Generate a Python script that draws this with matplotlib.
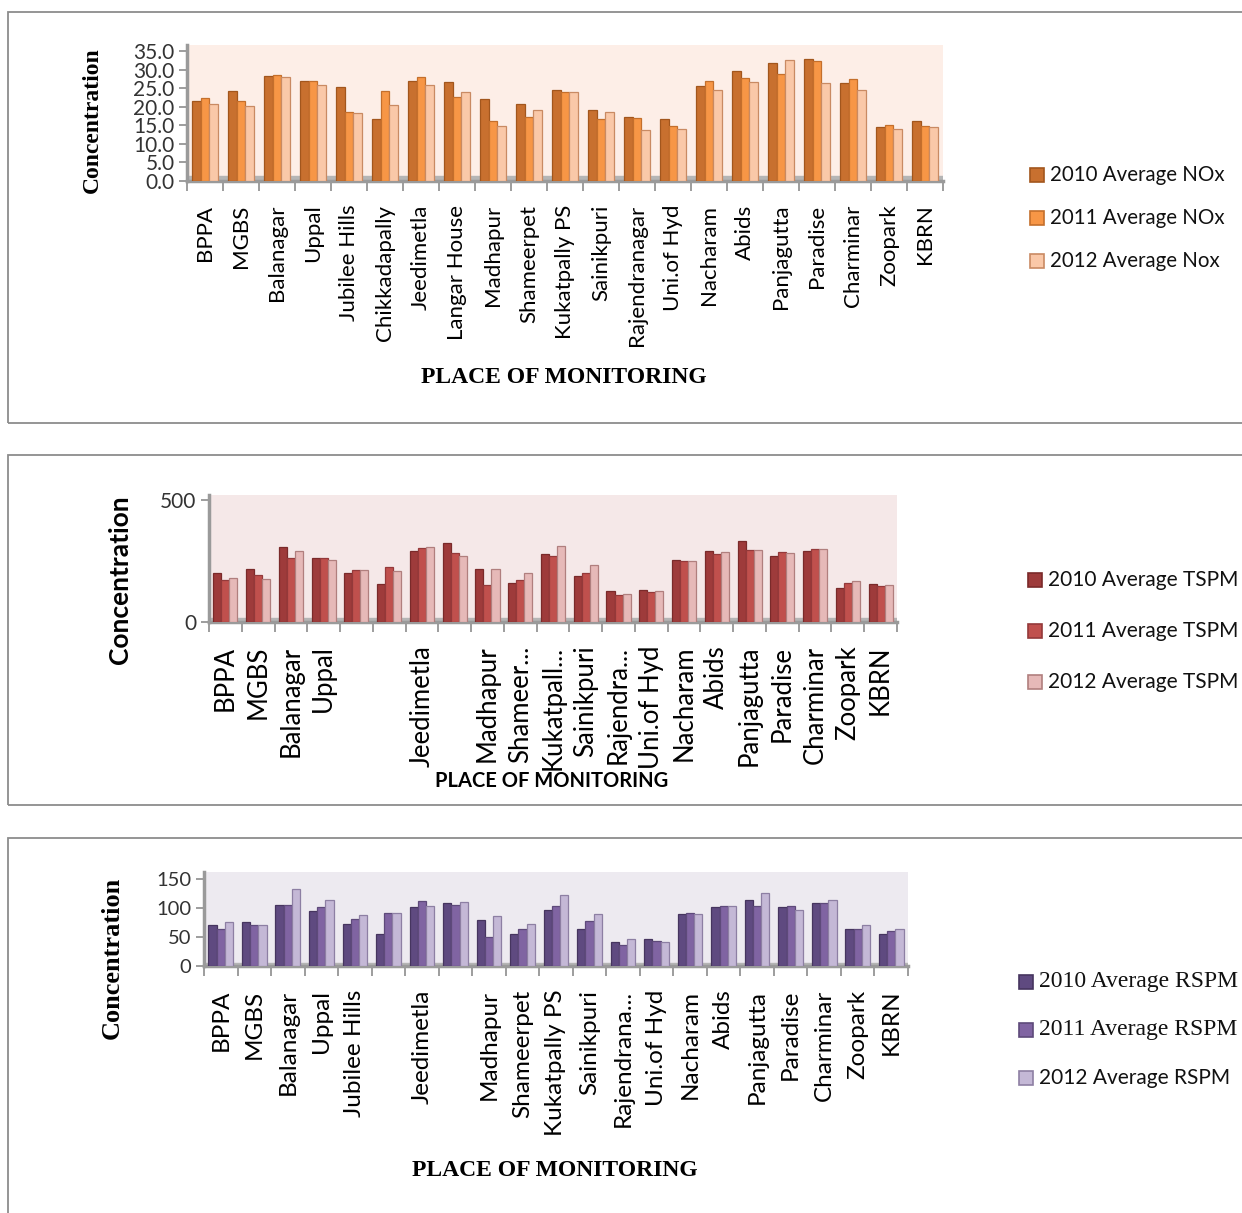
"""Concentrations moyennes NOx / TSPM / RSPM par station (2010-2012)."""

import matplotlib

matplotlib.use("Agg")
import matplotlib.pyplot as plt
import numpy as np
from matplotlib.patches import Rectangle

W, H = 1242, 1213

places = [
    "BPPA", "MGBS", "Balanagar", "Uppal", "Jubilee Hills", "Chikkadapally",
    "Jeedimetla", "Langar House", "Madhapur", "Shameerpet", "Kukatpally PS",
    "Sainikpuri", "Rajendranagar", "Uni.of Hyd", "Nacharam", "Abids",
    "Panjagutta", "Paradise", "Charminar", "Zoopark", "KBRN",
]
tspm_labels = [
    "BPPA", "MGBS", "Balanagar", "Uppal", "", "", "Jeedimetla", "",
    "Madhapur", "Shameer...", "Kukatpall...", "Sainikpuri", "Rajendra...",
    "Uni.of Hyd", "Nacharam", "Abids", "Panjagutta", "Paradise", "Charminar",
    "Zoopark", "KBRN",
]
rspm_labels = [
    "BPPA", "MGBS", "Balanagar", "Uppal", "Jubilee Hills", "", "Jeedimetla", "",
    "Madhapur", "Shameerpet", "Kukatpally PS", "Sainikpuri", "Rajendrana...",
    "Uni.of Hyd", "Nacharam", "Abids", "Panjagutta", "Paradise", "Charminar",
    "Zoopark", "KBRN",
]

nox_2010 = [21.6, 24.1, 28.2, 26.8, 25.2, 16.8, 27.0, 26.6, 22.2, 20.8, 24.6,
            19.0, 17.1, 16.8, 25.7, 29.5, 31.8, 32.7, 26.5, 14.5, 16.2]
nox_2011 = [22.3, 21.6, 28.5, 26.8, 18.5, 24.1, 28.0, 22.5, 16.2, 17.1, 24.0,
            16.8, 16.9, 14.7, 26.8, 27.6, 28.8, 32.4, 27.5, 15.1, 14.7]
nox_2012 = [20.7, 20.1, 28.1, 25.9, 18.3, 20.5, 25.9, 24.0, 14.7, 19.0, 24.0,
            18.7, 13.8, 14.1, 24.6, 26.7, 32.5, 26.4, 24.6, 14.1, 14.4]

tspm_2010 = [201, 219, 306, 261, 201, 156, 292, 322, 219, 160, 278,
             188, 125, 129, 253, 292, 331, 271, 290, 139, 157]
tspm_2011 = [174, 192, 264, 264, 212, 225, 303, 283, 153, 174, 271,
             201, 111, 121, 250, 278, 294, 285, 299, 160, 146]
tspm_2012 = [181, 176, 292, 253, 211, 208, 306, 269, 218, 201, 310,
             233, 115, 128, 250, 286, 294, 283, 297, 169, 153]

rspm_2010 = [70, 76, 105, 94, 73, 56, 102, 109, 79, 56, 96,
             63, 42, 46, 90, 102, 114, 102, 109, 63, 55]
rspm_2011 = [64, 71, 105, 101, 81, 92, 112, 105, 50, 63, 104,
             77, 37, 43, 92, 103, 103, 104, 109, 63, 60]
rspm_2012 = [75, 70, 133, 114, 88, 92, 103, 110, 87, 73, 122,
             90, 46, 42, 90, 103, 126, 97, 114, 71, 63]

SANS = "Lato"
SERIF = "Liberation Serif"


def px_rect(x0, y0, x1, y1):
    return [x0 / W, 1 - y1 / H, (x1 - x0) / W, (y1 - y0) / H]


def draw_panel(fig, rect, series, colors, edges, bg, labels, ylim, yticks,
               ytick_fmt, ytick_size, xtick_size):
    ax = fig.add_axes(rect)
    ax.set_facecolor(bg)
    x = np.arange(len(places))
    w = 0.245
    for i, (vals, c, e) in enumerate(zip(series, colors, edges)):
        ax.bar(x + (i - 1) * w, vals, width=w, color=c, edgecolor=e,
               linewidth=0.9, zorder=3)
    ax.set_xlim(-0.5, len(places) - 0.5)
    ax.set_ylim(*ylim)
    # sol gris façon 3D
    ax.axhspan(ylim[0], ylim[0] + (ylim[1] - ylim[0]) * 0.035,
               color="#b5b5b5", zorder=2)
    ax.set_yticks(yticks)
    ax.set_yticklabels([ytick_fmt.format(v) for v in yticks],
                       family=SANS, fontsize=ytick_size)
    ax.set_xticks(np.arange(len(places) + 1) - 0.5, minor=True)
    ax.set_xticks(x)
    ax.set_xticklabels(labels, rotation=90, family=SANS, fontsize=xtick_size,
                       va="top")
    ax.tick_params(axis="x", which="major", length=0, pad=17)
    ax.tick_params(axis="x", which="minor", length=7, color="#8c8c8c",
                   width=1.2)
    ax.tick_params(axis="y", length=6, color="#8c8c8c", width=1.2, pad=3,
                   labelcolor="#333333")
    for side in ("top", "right"):
        ax.spines[side].set_visible(False)
    for side in ("left", "bottom"):
        ax.spines[side].set_color("#9a9a9a")
        ax.spines[side].set_linewidth(2.5)
    return ax


def add_legend(fig, handles_colors, edges, names, x, y, spacing, fonts, sizes):
    for k, (c, e, n, f, s) in enumerate(zip(handles_colors, edges, names,
                                            fonts, sizes)):
        yy = y + k * spacing
        fig.patches.append(Rectangle((x / W, 1 - (yy + 7) / H), 14 / W, 14 / H,
                                     facecolor=c, edgecolor=e, linewidth=1.2,
                                     transform=fig.transFigure, figure=fig))
        fig.text((x + 20) / W, 1 - yy / H, n, family=f, fontsize=s,
                 va="center", ha="left", color="#111111")


fig = plt.figure(figsize=(W / 100, H / 100), dpi=100)
fig.patch.set_facecolor("white")

# cadres des trois panneaux
for (top, bottom) in [(12, 423), (455, 805), (838, 1240)]:
    fig.patches.append(Rectangle((8 / W, 1 - bottom / H), 1.0, (bottom - top) / H,
                                 facecolor="none", edgecolor="#8c8c8c",
                                 linewidth=1.3, transform=fig.transFigure,
                                 figure=fig))

# ---- NOx ----
nox_colors = ["#c8702f", "#f79646", "#fac8a8"]
nox_edges = ["#a2561d", "#c46f2c", "#c98a63"]
draw_panel(fig, px_rect(187, 45, 943, 181), [nox_2010, nox_2011, nox_2012],
           nox_colors, nox_edges, "#fdeee7", places, (0, 36.6),
           np.arange(0, 36, 5.0), "{:.1f}", 15, 16)
fig.text(92 / W, 1 - 120 / H, "Concentration", rotation=90, family=SERIF,
         weight="bold", fontsize=17, ha="center", va="center")
fig.text(564 / W, 1 - 377 / H, "PLACE OF MONITORING", family=SERIF,
         weight="bold", fontsize=17, ha="center", va="center")
add_legend(fig, nox_colors, nox_edges,
           ["2010 Average NOx", "2011 Average NOx", "2012 Average Nox"],
           1030, 175, 43, [SANS] * 3, [14.8] * 3)

# ---- TSPM ----
tspm_colors = ["#9e3b3b", "#c0504d", "#e6b9b8"]
tspm_edges = ["#7a2a2a", "#94393a", "#b07f7e"]
draw_panel(fig, px_rect(209, 495, 897, 622), [tspm_2010, tspm_2011, tspm_2012],
           tspm_colors, tspm_edges, "#f5e8e8", tspm_labels, (0, 520),
           [0, 500], "{:d}", 15, 18.5)
fig.text(120 / W, 1 - 580 / H, "Concentration", rotation=90, family=SANS,
         weight="bold", fontsize=19, ha="center", va="center")
fig.text(552 / W, 1 - 781 / H, "PLACE OF MONITORING", family=SANS,
         weight="bold", fontsize=14.5, ha="center", va="center")
add_legend(fig, tspm_colors, tspm_edges,
           ["2010 Average TSPM", "2011 Average TSPM", "2012 Average TSPM"],
           1028, 580, 51, [SANS] * 3, [15] * 3)

# ---- RSPM ----
rspm_colors = ["#5f4a80", "#8064a2", "#c4b8d6"]
rspm_edges = ["#46355f", "#5e4a7a", "#8d7fa3"]
draw_panel(fig, px_rect(204, 872, 908, 966), [rspm_2010, rspm_2011, rspm_2012],
           rspm_colors, rspm_edges, "#edeaf0", rspm_labels, (0, 162),
           [0, 50, 100, 150], "{:d}", 14.5, 17.5)
fig.text(112 / W, 1 - 958 / H, "Concentration", rotation=90, family=SERIF,
         weight="bold", fontsize=19, ha="center", va="center")
fig.text(555 / W, 1 - 1171 / H, "PLACE OF MONITORING", family=SERIF,
         weight="bold", fontsize=17, ha="center", va="center")
add_legend(fig, rspm_colors, rspm_edges,
           ["2010 Average RSPM", "2011 Average RSPM", "2012 Average RSPM"],
           1019, 982, 48, [SERIF, SERIF, SANS], [17, 17, 15])

fig.savefig("out.png", dpi=100)
plt.close(fig)
